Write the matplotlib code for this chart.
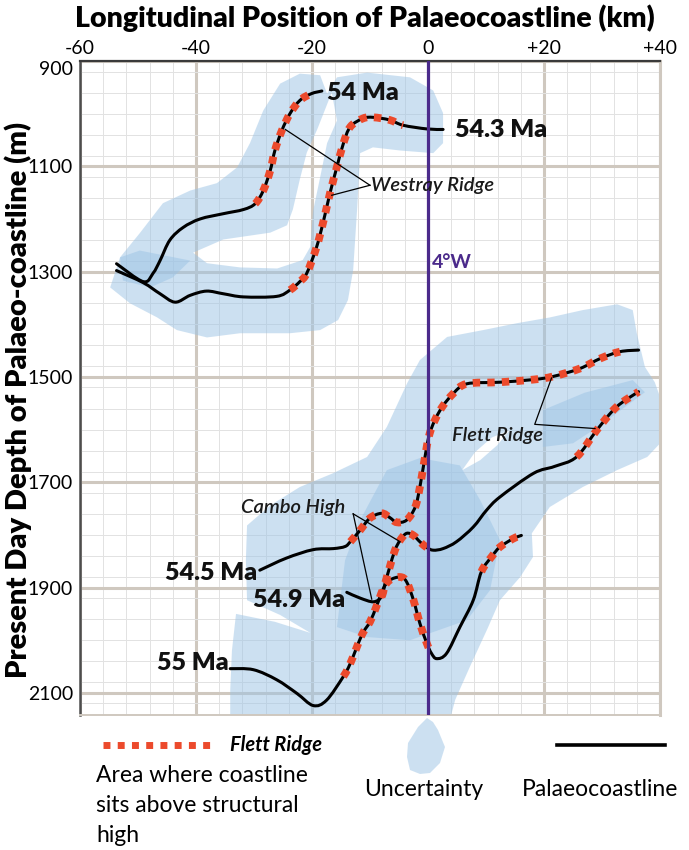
import matplotlib
matplotlib.use("Agg")
import matplotlib.pyplot as plt
from matplotlib.path import Path
from matplotlib.patches import PathPatch, Polygon
from matplotlib.lines import Line2D
from matplotlib.ticker import MultipleLocator, FixedLocator

plt.rcParams['font.family'] = ['Lato', 'DejaVu Sans']

# ---------------------------------------------------------------------------
# Palaeocoastline traces: longitudinal position (km) and present-day depth (m)
# ---------------------------------------------------------------------------
x_54 = [-53.7, -49.1, -47.4, -46.2, -44.5, -42.2, -39.3, -35.3, -31.8, -29.8,
        -28.4, -27.2, -26.4, -25.2, -23.8, -22.1, -20.1, -18.3]
y_54 = [1285, 1319, 1303, 1279, 1240, 1216, 1200, 1190, 1182, 1171,
        1146, 1108, 1070, 1032, 1000, 975, 962, 957]
ridge_54 = [(9, 16)]

x_543 = [-53.7, -49.1, -46.2, -43.6, -41.0, -38.2, -35.3, -31.8, -26.1, -23.8,
         -22.1, -20.9, -19.2, -18.0, -16.9, -15.7, -14.6, -13.4, -11.2, -9.4,
         -6.6, -4.3, -0.2, 2.6]
y_543 = [1298, 1321, 1342, 1358, 1345, 1337, 1342, 1348, 1347, 1335,
         1319, 1303, 1253, 1203, 1151, 1101, 1057, 1025, 1009, 1007,
         1012, 1022, 1029, 1030]
ridge_543 = [(9, 21)]

x_545 = [-29.0, -24.4, -19.8, -16.3, -14.3, -13.4, -11.7, -10.0, -8.0, -6.6,
         -5.4, -3.7, -2.2, -1.4, -0.7, 0.3, 2.1, 4.4, 6.7, 12.4,
         18.2, 21.6, 26.2, 29.7, 33.1, 36.3]
y_545 = [1867, 1844, 1828, 1826, 1822, 1813, 1791, 1768, 1759, 1767,
         1776, 1772, 1747, 1709, 1664, 1607, 1563, 1531, 1513, 1510,
         1505, 1499, 1484, 1465, 1452, 1449]
ridge_545 = [(5, 24)]

x_549 = [-14.0, -11.7, -9.4, -8.0, -7.4, -6.6, -5.7, -4.8, -3.7, -2.5,
         -1.4, -0.2, 0.9, 2.6, 4.9, 7.8, 10.1, 12.4, 18.2, 21.8,
         25.6, 29.1, 32.5, 36.3]
y_549 = [1909, 1920, 1927, 1917, 1892, 1861, 1829, 1810, 1797, 1801,
         1813, 1824, 1829, 1826, 1813, 1785, 1753, 1728, 1683, 1670,
         1652, 1601, 1557, 1528]
ridge_549 = [(3, 11), (20, 23)]

x_55 = [-34.1, -30.1, -26.1, -22.6, -19.8, -17.5, -14.6, -13.4, -11.4, -10.0,
        -8.9, -7.7, -6.6, -4.8, -3.7, -2.5, -1.4, -0.2, 0.6, 1.5,
        3.2, 5.5, 7.8, 9.2, 11.0, 12.4, 14.7, 16.1]
y_55 = [2054, 2056, 2075, 2101, 2124, 2114, 2069, 2044, 1990, 1965,
        1936, 1902, 1886, 1880, 1889, 1924, 1968, 2006, 2025, 2035,
        2025, 1975, 1924, 1870, 1841, 1823, 1807, 1801]
ridge_55 = [(6, 18), (23, 27)]

# Uncertainty envelopes (km, m)
upper_env_x = [-54.8, -53.1, -49.7, -45.7, -41.0, -36.4, -32.9, -30.7, -28.4, -25.5,
               -22.1, -18.6, -17.4, -15.7, -10.5, -3.1, 0.9, 2.6, 2.6, 0.9,
               -4.8, -9.5, -11.7, -12.2, -12.9, -13.8, -15.5, -18.6, -23.8, -32.4,
               -38.1, -43.3, -46.7, -51.4]
upper_env_y = [1330, 1273, 1227, 1170, 1146, 1132, 1102, 1056, 994, 943,
               924, 927, 962, 931, 922, 931, 956, 999, 1056, 1075,
               1070, 1064, 1075, 1178, 1297, 1354, 1392, 1411, 1417, 1417,
               1425, 1411, 1387, 1360]
upper_gap_x = [-40.5, -35.3, -27.2, -24.3, -23.3, -22.1, -20.9, -19.1, -17.6, -16.6,
               -15.7, -17.4, -18.6, -19.8, -20.3, -21.6, -26.0, -32.4, -38.1]
upper_gap_y = [1264, 1239, 1226, 1212, 1182, 1125, 1074, 1030, 988, 960,
               1013, 1056, 1121, 1184, 1253, 1278, 1294, 1292, 1284]
upper_core_x = [-53.1, -49.7, -41.0, -44.0, -47.9, -52.6]
upper_core_y = [1273, 1260, 1279, 1311, 1330, 1317]

lower_env_x = [-34.1, -34.1, -33.8, -33.1, -26.4, -20.3, -25.5, -31.2, -31.4, -31.2,
               -27.2, -22.1, -16.4, -10.5, -7.1, -3.6, -1.4, 3.3, 9.5, 15.3,
               21.0, 26.7, 32.6, 35.3, 36.0, 37.4, 39.1, 40.2, 40.2, 37.8,
               32.6, 26.7, 21.0, 17.9, 18.1, 15.9, 12.4, 10.3, 7.2, 4.7,
               3.8]
lower_env_y = [2150, 2095, 2019, 1950, 1965, 1986, 1952, 1924, 1848, 1782,
               1744, 1709, 1683, 1652, 1595, 1512, 1468, 1424, 1411, 1398,
               1387, 1373, 1362, 1373, 1417, 1481, 1510, 1544, 1624, 1652,
               1677, 1709, 1747, 1797, 1842, 1880, 1924, 1977, 2051, 2113,
               2150]
lower_gap_x = [5.9, 8.1, 11.0, 14.1, 11.9, 9.0]
lower_gap_y = [1677, 1643, 1615, 1601, 1630, 1658]
central_core_x = [-15.7, -14.3, -11.7, -7.1, -1.4, 5.5, 9.0, 12.4, 10.7, 6.7,
                  -3.1, -10.5]
central_core_y = [1975, 1848, 1772, 1677, 1654, 1668, 1734, 1810, 1905, 1962,
                  2000, 1994]
flett_core_x = [19.8, 27.0, 35.3, 37.4, 29.7, 25.0, 19.8]
flett_core_y = [1563, 1530, 1506, 1529, 1592, 1626, 1633]

# Axis ticks
x_major = [-60, -40, -20, 0, 20, 40]
x_labels = ['-60', '-40', '-20', '0', '+20', '+40']
y_major = [900, 1100, 1300, 1500, 1700, 1900, 2100]
y_labels = ['900', '1100', '1300', '1500', '1700', '1900', '2100']

# Annotation anchors
westray_tips = [(-24.6, 1030), (-16.6, 1155)]
westray_hub = (-10.0, 1136)
cambo_tips = [(-4.8, 1813), (-9.7, 1922)]
cambo_hub = (-12.9, 1760)
flett_leader_x = [21.3, 18.4, 28.8]
flett_leader_y = [1502, 1590, 1598]

# ---------------------------------------------------------------------------
W, H = 689, 850
fig = plt.figure(figsize=(W / 100, H / 100), dpi=100)
ax = fig.add_axes([80 / W, 1 - 715 / H, 580 / W, 654 / H])

BLUE = '#9bc3e5'
BLUE_A = 0.5
RED = '#ec4a2c'
PURPLE = '#4b2a8b'
GRID_MAJ = '#cfc8bf'
GRID_MIN = '#e2e2e2'
RIDGE_LW = 5.0
RIDGE_STYLE = (0, (1.0, 1.05))
RIDGE_LW_CURVE = 5.6
RIDGE_STYLE_CURVE = (0, (0.95, 0.92))


def envelope(xs, ys, hole_x=None, hole_y=None):
    verts = list(zip(xs, ys)) + [(xs[0], ys[0])]
    codes = [Path.MOVETO] + [Path.LINETO] * (len(xs) - 1) + [Path.CLOSEPOLY]
    if hole_x is not None:
        hv = list(zip(hole_x, hole_y))[::-1]
        verts += hv + [hv[0]]
        codes += [Path.MOVETO] + [Path.LINETO] * (len(hv) - 1) + [Path.CLOSEPOLY]
    ax.add_patch(PathPatch(Path(verts, codes), facecolor=BLUE, alpha=BLUE_A,
                           edgecolor='none', zorder=1))


envelope(upper_env_x, upper_env_y, upper_gap_x, upper_gap_y)
envelope(upper_core_x, upper_core_y)
envelope(lower_env_x, lower_env_y, lower_gap_x, lower_gap_y)
envelope(central_core_x, central_core_y)
envelope(flett_core_x, flett_core_y)

# grid
ax.set_xlim(-60, 40)
ax.set_ylim(2142, 900)
ax.xaxis.set_major_locator(FixedLocator(x_major))
ax.xaxis.set_minor_locator(MultipleLocator(4))
ax.yaxis.set_major_locator(FixedLocator(y_major))
ax.yaxis.set_minor_locator(MultipleLocator(40))
ax.set_axisbelow(True)
ax.grid(which='minor', color=GRID_MIN, lw=0.7)
ax.grid(which='major', color=GRID_MAJ, lw=2.2)

ax.xaxis.tick_top()
ax.set_xticklabels(x_labels, fontsize=14)
ax.set_yticklabels(y_labels, fontsize=14)
ax.tick_params(which='both', length=0)
ax.tick_params(axis='x', pad=3)
ax.tick_params(axis='y', pad=5)
ax.get_yticklabels()[0].set_verticalalignment('top')

for side, col, lw in [('top', '#3a3a3a', 1.6), ('left', '#4d4d4d', 1.8),
                      ('bottom', GRID_MAJ, 1.4), ('right', GRID_MAJ, 2.2)]:
    ax.spines[side].set_color(col)
    ax.spines[side].set_linewidth(lw)

# 4 deg W meridian
ax.axvline(0, color=PURPLE, lw=2.3, zorder=4)
ax.text(0.6, 1282, '4°W', color=PURPLE, fontsize=14, fontweight='bold',
        ha='left', va='center', zorder=6)


def bezier_segments(xs, ys):
    """Cubic Bezier control points (Catmull-Rom) through the traced points."""
    pts = list(zip(xs, ys))
    n = len(pts)
    segs = []
    for i in range(n - 1):
        p0 = pts[max(i - 1, 0)]
        p1 = pts[i]
        p2 = pts[i + 1]
        p3 = pts[min(i + 2, n - 1)]
        c1 = (p1[0] + (p2[0] - p0[0]) / 6, p1[1] + (p2[1] - p0[1]) / 6)
        c2 = (p2[0] - (p3[0] - p1[0]) / 6, p2[1] - (p3[1] - p1[1]) / 6)
        segs.append((p1, c1, c2, p2))
    return segs


def curve_path(segs, a, b):
    verts = [segs[a][0]]
    codes = [Path.MOVETO]
    for s in segs[a:b]:
        verts += [s[1], s[2], s[3]]
        codes += [Path.CURVE4] * 3
    return Path(verts, codes)


def coastline(xs, ys, ridges):
    segs = bezier_segments(xs, ys)
    ax.add_patch(PathPatch(curve_path(segs, 0, len(segs)), fill=False,
                           edgecolor='black', lw=2.2, capstyle='round',
                           joinstyle='round', zorder=3))
    for a, b in ridges:
        ridge = PathPatch(curve_path(segs, a, b), fill=False, edgecolor=RED,
                          lw=RIDGE_LW_CURVE, capstyle='butt', joinstyle='miter',
                          zorder=3.5)
        ridge.set_linestyle(RIDGE_STYLE_CURVE)
        ax.add_patch(ridge)


coastline(x_54, y_54, ridge_54)
coastline(x_543, y_543, ridge_543)
coastline(x_545, y_545, ridge_545)
coastline(x_549, y_549, ridge_549)
coastline(x_55, y_55, ridge_55)

lab = dict(fontsize=18, fontweight='heavy', va='center', zorder=6, color='#111111')
ax.text(-17.4, 960, '54 Ma', ha='left', **lab)
ax.text(4.7, 1031, '54.3 Ma', ha='left', **lab)
ax.text(-29.4, 1872, '54.5 Ma', ha='right', **lab)
ax.text(-14.3, 1924, '54.9 Ma', ha='right', **lab)
ax.text(-34.4, 2043, '55 Ma', ha='right', **lab)

# structural-high annotations
note = dict(fontsize=14.5, fontstyle='italic', fontweight='semibold', va='center',
            zorder=6, color='#1a1a1a')
for tx, ty in westray_tips:
    ax.plot([tx, westray_hub[0]], [ty, westray_hub[1]], color='black', lw=0.9, zorder=5)
ax.text(westray_hub[0] + 0.2, westray_hub[1], 'Westray Ridge', ha='left', **note)

for tx, ty in cambo_tips:
    ax.plot([tx, cambo_hub[0]], [ty, cambo_hub[1]], color='black', lw=0.9, zorder=5)
ax.text(-14.3, 1747, 'Cambo High', ha='right', **note)

ax.plot(flett_leader_x, flett_leader_y, color='black', lw=0.9, zorder=5)
ax.text(4.1, 1611, 'Flett Ridge', ha='left', **note)

# axis titles
fig.text(365 / W, 1 - 18 / H, 'Longitudinal Position of Palaeocoastline (km)',
         fontsize=20.5, fontweight='heavy', ha='center', va='center')
fig.text(18 / W, 1 - 400 / H, 'Present Day Depth of Palaeo-coastline (m)',
         fontsize=21, fontweight='heavy', ha='center', va='center', rotation=90)

# ---------------------------------------------------------------------------
# key beneath the plot (positions in pixels from the top-left corner)
def fx(px):
    return px / W


def fy(py):
    return 1 - py / H


fig.add_artist(Line2D([fx(103), fx(213)], [fy(745), fy(745)], color=RED, lw=RIDGE_LW,
                      linestyle=RIDGE_STYLE, dash_capstyle='butt'))
fig.text(fx(230), fy(745), 'Flett Ridge', fontsize=14.5, fontstyle='italic',
         fontweight='bold', ha='left', va='center')
for i, line in enumerate(['Area where coastline', 'sits above structural', 'high']):
    fig.text(fx(96), fy(775 + 30 * i), line, fontsize=16.5, ha='left', va='center')

key_blob = [(427, 718), (418, 727), (408, 743), (407, 757), (410, 770), (420, 774),
            (430, 773), (440, 763), (445, 747), (438, 730), (433, 722)]
fig.add_artist(Polygon([(fx(a), fy(b)) for a, b in key_blob], closed=True,
                       facecolor=BLUE, alpha=BLUE_A, edgecolor='none',
                       transform=fig.transFigure))
fig.text(fx(424), fy(790), 'Uncertainty', fontsize=16.5, ha='center', va='center')

fig.add_artist(Line2D([fx(557), fx(665)], [fy(745), fy(745)], color='black', lw=2.6))
fig.text(fx(522), fy(790), 'Palaeocoastline', fontsize=16.5, ha='left', va='center')

fig.savefig('out.png', dpi=100)
